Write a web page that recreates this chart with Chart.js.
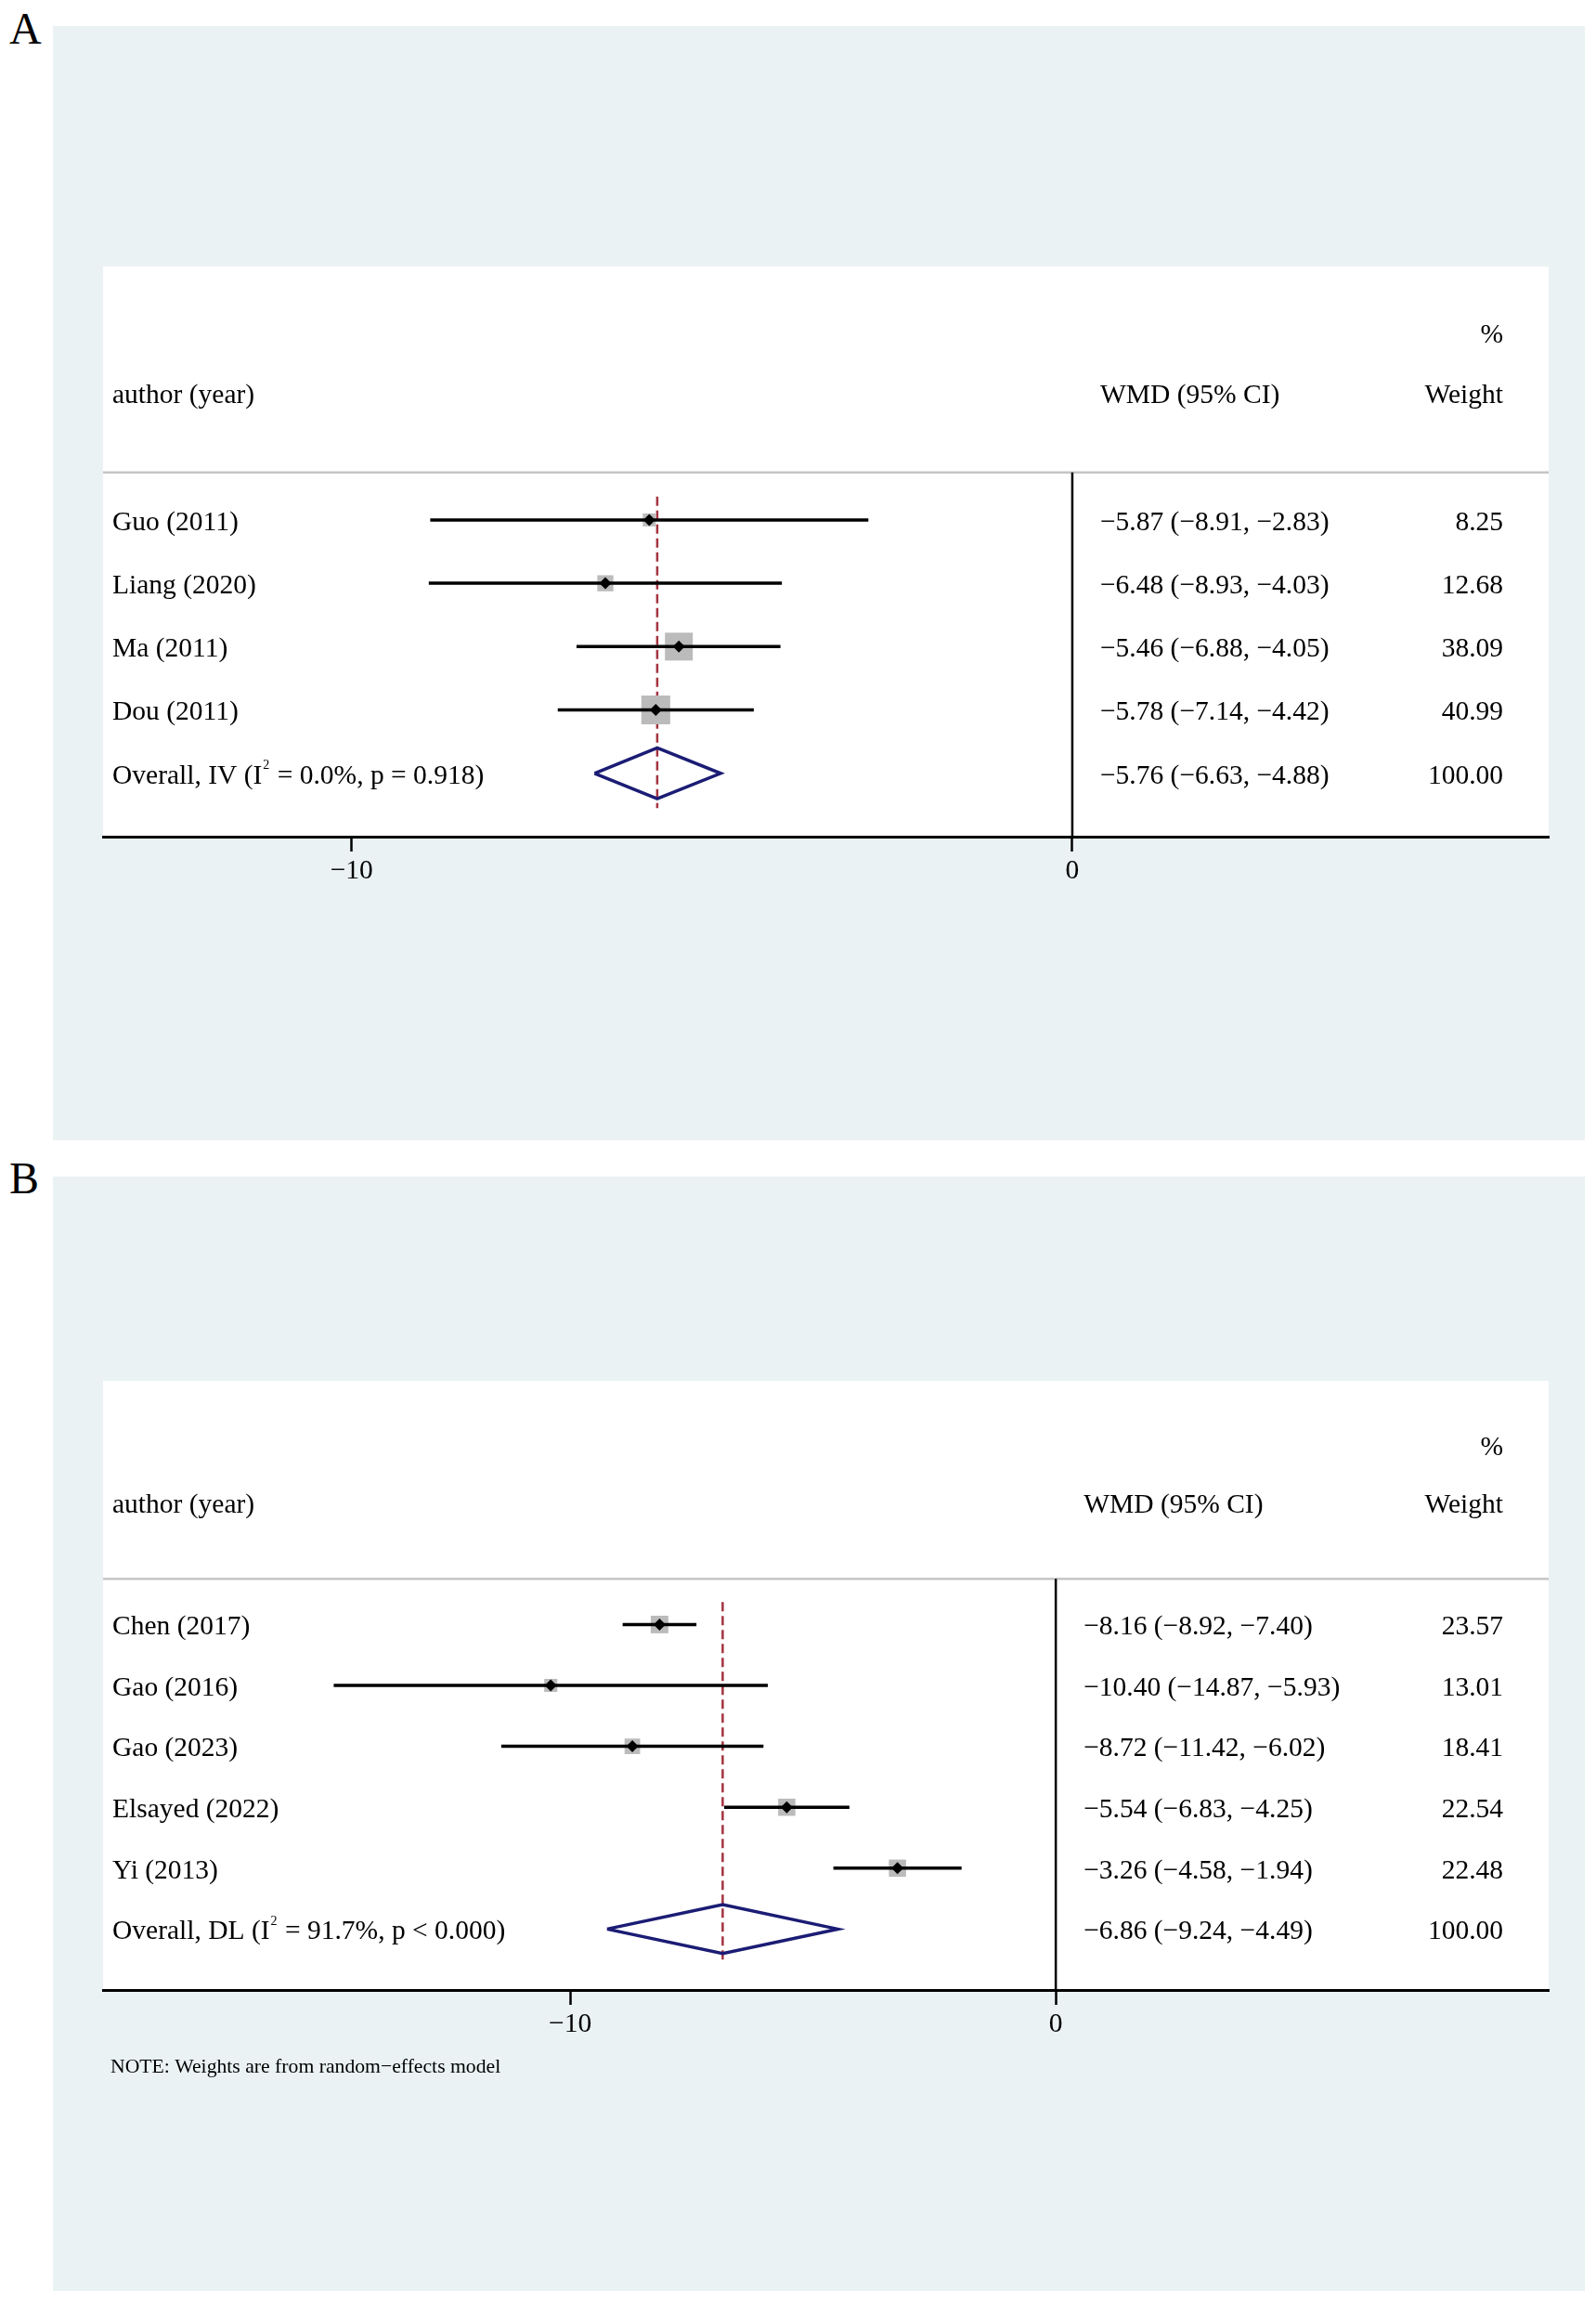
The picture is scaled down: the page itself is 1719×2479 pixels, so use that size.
<!DOCTYPE html>
<html lang="en">
<head>
<meta charset="UTF-8">
<title>Forest plots A and B</title>
<script src="https://cdn.jsdelivr.net/npm/chart.js"></script>
<style>
    body {
        margin: 0;
        width: 1719px;
        height: 2479px;
        position: relative;
        background: #fff;
        font-family: "Liberation Serif", serif;
    }
    .panel {
        position: absolute;
        left: 57px;
        width: 1650px;
        height: 1200px;
        background: #eaf2f3;
    }
    #panelA { top: 28px; }
    #panelB { top: 1267px; }
    .tag {
        position: absolute;
        left: 10px;
        font-size: 48px;
        line-height: 48px;
    }
</style>
</head>
<body>
<div class="tag" style="top:7px">A</div>
<div class="tag" style="top:1245px">B</div>
<div class="panel" id="panelA"><canvas id="chartA"></canvas></div>
<div class="panel" id="panelB"><canvas id="chartB"></canvas></div>

<script>
    // panel A
    const studiesA = ['Guo (2011)', 'Liang (2020)', 'Ma (2011)', 'Dou (2011)'];
    const estA = [-5.87, -6.48, -5.46, -5.78];
    const lowA = [-8.91, -8.93, -6.88, -7.14];
    const highA = [-2.83, -4.03, -4.05, -4.42];
    const weightA = [8.25, 12.68, 38.09, 40.99];
    const overallA = [-5.76, -6.63, -4.88];          // estimate, low, high
    const overallLabelA = ['Overall, IV (I', '2', ' = 0.0%, p = 0.918)'];

    // panel B
    const studiesB = ['Chen (2017)', 'Gao (2016)', 'Gao (2023)', 'Elsayed (2022)', 'Yi (2013)'];
    const estB = [-8.16, -10.40, -8.72, -5.54, -3.26];
    const lowB = [-8.92, -14.87, -11.42, -6.83, -4.58];
    const highB = [-7.40, -5.93, -6.02, -4.25, -1.94];
    const weightB = [23.57, 13.01, 18.41, 22.54, 22.48];
    const overallB = [-6.86, -9.24, -4.49];
    const overallLabelB = ['Overall, DL (I', '2', ' = 91.7%, p < 0.000)'];
    const noteB = 'NOTE: Weights are from random\u2212effects model';

    const xTicks = [-10, 0];
    const headers = ['author (year)', 'WMD (95% CI)', '%', 'Weight'];

    const FONT = '"Liberation Serif", "Times New Roman", serif';
    const fmt = v => v.toFixed(2).replace('-', '\u2212');

    const tablePlugin = {
        id: 'table',
        beforeDraw(chart) {
            const a = chart.chartArea;
            chart.ctx.save();
            chart.ctx.fillStyle = '#fff';
            chart.ctx.fillRect(a.left, a.top, a.right - a.left, a.bottom - a.top);
            chart.ctx.restore();
        },
        afterDraw(chart, args, p) {
            const ctx = chart.ctx, x = chart.scales.x, y = chart.scales.y, a = chart.chartArea;
            const left = a.left + 10;
            const wmdX = x.getPixelForValue(0) + 30;
            const wRight = a.left + 1508;
            const n = p.studies.length;
            const main = '29.5px ' + FONT;
            const row = v => y.getPixelForValue(v) + 3;

            ctx.save();
            ctx.fillStyle = '#000';
            ctx.textBaseline = 'middle';
            ctx.font = main;

            // header
            ctx.textAlign = 'left';
            ctx.fillText(headers[0], left, row(-2));
            ctx.fillText(headers[1], wmdX, row(-2));
            ctx.textAlign = 'right';
            ctx.fillText(headers[2], wRight, row(-2.95));
            ctx.fillText(headers[3], wRight, row(-2));

            // study rows
            p.studies.forEach((s, i) => {
                const py = row(i);
                ctx.textAlign = 'left';
                ctx.fillText(s, left, py);
                ctx.fillText(fmt(p.est[i]) + ' (' + fmt(p.low[i]) + ', ' + fmt(p.high[i]) + ')', wmdX, py);
                ctx.textAlign = 'right';
                ctx.fillText(p.weight[i].toFixed(2), wRight, py);
            });

            // overall row, with superscript 2
            const oy = row(n);
            const [oe, ol, oh] = p.overall;
            ctx.textAlign = 'left';
            ctx.fillText(p.overallLabel[0], left, oy);
            const w1 = ctx.measureText(p.overallLabel[0]).width;
            ctx.font = '14px ' + FONT;
            ctx.fillText(p.overallLabel[1], left + w1 + 1, oy - 11);
            const w2 = ctx.measureText(p.overallLabel[1]).width;
            ctx.font = main;
            ctx.fillText(p.overallLabel[2], left + w1 + w2 + 2, oy);
            ctx.fillText(fmt(oe) + ' (' + fmt(ol) + ', ' + fmt(oh) + ')', wmdX, oy);
            ctx.textAlign = 'right';
            ctx.fillText('100.00', wRight, oy);

            if (p.note) {
                ctx.textAlign = 'left';
                ctx.font = '21.7px ' + FONT;
                ctx.fillText(p.note, a.left + 8, a.bottom + 83);
            }
            ctx.restore();
        }
    };

    function buildDatasets(p) {
        const n = p.est.length;
        const [oe, ol, oh] = p.overall;
        const line = (data, color, width, extra) => Object.assign({
            data: data, showLine: true, borderColor: color, borderWidth: width,
            pointRadius: 0, tension: 0
        }, extra || {});
        const sets = [];

        // point estimates (drawn last = on top)
        sets.push({
            data: p.est.map((v, i) => ({ x: v, y: i })),
            pointStyle: 'rectRot', pointRadius: 6.5,
            backgroundColor: '#000', borderWidth: 0
        });
        // confidence intervals
        p.est.forEach((v, i) => {
            sets.push(line([{ x: p.low[i], y: i }, { x: p.high[i], y: i }], '#000', 3.5));
        });
        // weight boxes, area proportional to weight
        sets.push({
            data: p.est.map((v, i) => ({ x: v, y: i })),
            pointStyle: 'rect',
            pointRadius: p.weight.map(w => p.boxScale * Math.sqrt(w) / Math.SQRT2),
            backgroundColor: '#bbbbbb', borderWidth: 0
        });
        // overall diamond
        sets.push(line([
            { x: ol, y: n }, { x: oe, y: n - 0.4 }, { x: oh, y: n },
            { x: oe, y: n + 0.4 }, { x: ol, y: n }
        ], '#1b1c74', 3.5, { borderJoinStyle: 'miter' }));
        // overall estimate reference line
        sets.push(line([{ x: oe, y: -0.37 }, { x: oe, y: n + 0.55 }], '#a3343f', 2.5, { borderDash: [10, 5] }));
        // no-effect line
        sets.push(line([{ x: 0, y: -0.75 }, { x: 0, y: n + 1 }], '#000', 2.5));
        // header divider
        sets.push(line([{ x: p.xMin, y: -0.75 }, { x: p.xMax, y: -0.75 }], '#c6c6c6', 2.5));
        return sets;
    }

    function makeForest(canvasId, p) {
        return new Chart(document.getElementById(canvasId), {
            type: 'scatter',
            data: { datasets: buildDatasets(p) },
            plugins: [tablePlugin],
            options: {
                responsive: true,
                maintainAspectRatio: false,
                animation: false,
                events: [],
                layout: { padding: p.padding },
                plugins: {
                    legend: { display: false },
                    tooltip: { enabled: false },
                    table: p
                },
                scales: {
                    x: {
                        type: 'linear',
                        position: 'bottom',
                        min: p.xMin,
                        max: p.xMax,
                        afterBuildTicks: axis => { axis.ticks = xTicks.map(v => ({ value: v })); },
                        afterFit: axis => { axis.height = 60; },
                        grid: {
                            drawOnChartArea: false,
                            drawTicks: true,
                            tickLength: 16,
                            tickWidth: 2.5,
                            tickColor: '#000'
                        },
                        border: { display: true, color: '#000', width: 3 },
                        ticks: {
                            padding: 4,
                            color: '#000',
                            font: { family: FONT, size: 29.5 },
                            callback: v => String(v).replace('-', '\u2212')
                        }
                    },
                    y: {
                        type: 'linear',
                        display: false,
                        reverse: true,
                        min: -4,
                        max: p.est.length + 1
                    }
                }
            }
        });
    }

    makeForest('chartA', {
        studies: studiesA, est: estA, low: lowA, high: highA, weight: weightA,
        overall: overallA, overallLabel: overallLabelA,
        xMin: -13.45, xMax: 6.61, boxScale: 4.86,
        padding: { left: 54, right: 39, top: 259, bottom: 267 }
    });

    makeForest('chartB', {
        studies: studiesB, est: estB, low: lowB, high: highB, weight: weightB,
        overall: overallB, overallLabel: overallLabelB, note: noteB,
        xMin: -19.62, xMax: 10.15, boxScale: 3.9,
        padding: { left: 54, right: 39, top: 220, bottom: 264 }
    });
</script>
</body>
</html>
